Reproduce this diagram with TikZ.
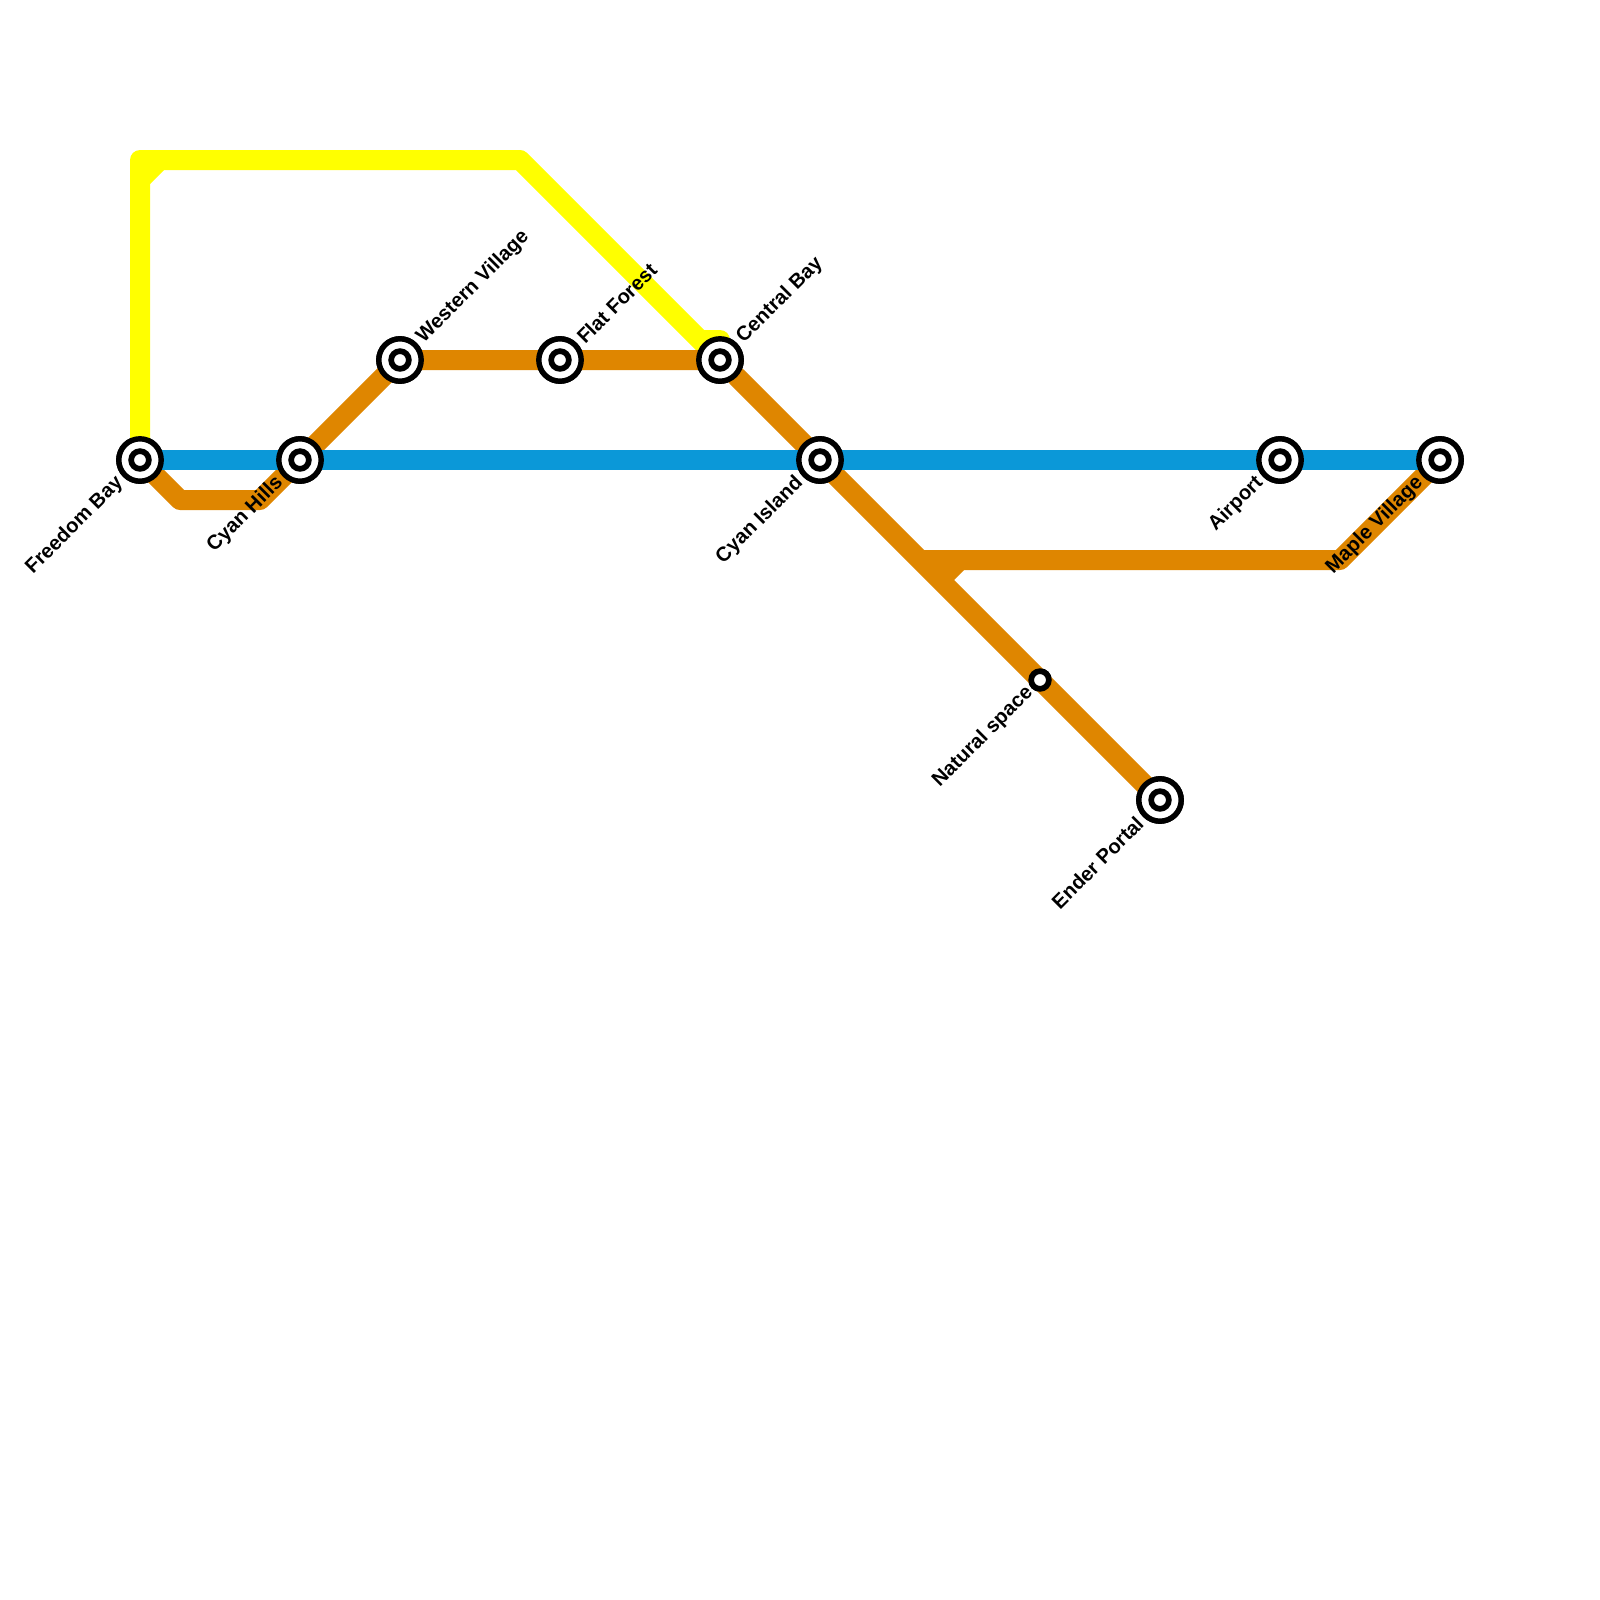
\documentclass[tikz,border=0pt]{standalone}
\usepackage{fontspec}
\setmainfont{Liberation Sans}
\definecolor{lineyellow}{HTML}{FFFF00}
\definecolor{lineorange}{HTML}{DF8600}
\definecolor{lineblue}{HTML}{0B98D8}
\tikzset{
  x=1pt,y=-1pt,
  route/.style={line width=20pt,line join=round,line cap=butt},
  ringnode/.style={circle,draw=black,fill=white,line width=5.4pt,inner sep=0pt,minimum size=42.4pt},
  coreline/.style={circle,draw=black,fill=white,line width=5.7pt,inner sep=0pt,minimum size=17.7pt},
  namelabel/.style={font=\bfseries\fontsize{20.2}{20.2}\selectfont,text=black,inner sep=0pt,rotate=45},
  labelur/.style={namelabel,anchor=west},
  labelll/.style={namelabel,anchor=east},
}
\begin{document}
\begin{tikzpicture}
\useasboundingbox (0,0) rectangle (1600,1600);
% station positions
\node[ringnode] (fb) at (140,460) {};
\node[ringnode] (ch) at (300,460) {};
\node[ringnode] (wv) at (400,360) {};
\node[ringnode] (ff) at (560,360) {};
\node[ringnode] (cb) at (720,360) {};
\node[ringnode] (ci) at (820,460) {};
\node[ringnode] (ap) at (1280,460) {};
\node[ringnode] (mv) at (1440,460) {};
\node[coreline] (ns) at (1040,680) {};
\node[ringnode] (ep) at (1160,800) {};
% bends
\coordinate (y1) at (140,160);
\coordinate (y2) at (520,160);
\coordinate (y3) at (140,180);
\coordinate (y4) at (160,160);
\coordinate (y5) at (720,340);
\coordinate (y6) at (700,340);
\coordinate (o1) at (180,500);
\coordinate (o2) at (260,500);
\coordinate (o3) at (920,560);
\coordinate (o4) at (1340,560);
\coordinate (o5) at (960,560);
\coordinate (o6) at (940,580);
\coordinate (o7) at (737,377);
% lines
\draw[route,lineyellow] (fb.center) -- (y1) -- (y2) -- (cb.center) -- (y5) -- (y6);
\draw[route,lineyellow] (y3) -- (y4);
\draw[route,lineorange] (fb.center) -- (o1) -- (o2) -- (wv.center) -- (cb.center);
\draw[route,lineorange,line cap=round] (o7) -- (ep.center);
\draw[route,lineorange] (o3) -- (o4) -- (mv.center);
\draw[route,lineorange] (o5) -- (o6);
\draw[route,lineblue] (fb.center) -- (mv.center);
% stations on top
\foreach \s in {fb,ch,wv,ff,cb,ci,ap,mv,ep}{
  \node[ringnode] at (\s) {};
  \node[coreline] at (\s) {};
}
\node[coreline] at (ns) {};
% labels
\node[labelll] (lfb) at (120,480) {Freedom Bay};
\node[labelll] (lch) at (280,480) {Cyan Hills};
\node[labelur] (lwv) at (420,340) {Western Village};
\node[labelur] (lff) at (580,340) {Flat Forest};
\node[labelur] (lcb) at (740,340) {Central Bay};
\node[labelll] (lci) at (800,480) {Cyan Island};
\node[labelll] (lap) at (1260,480) {Airport};
\node[labelll] (lmv) at (1420,480) {Maple Village};
\node[labelll] (lns) at (1030,690) {Natural space};
\node[labelll] (lep) at (1140,820) {Ender Portal};
\end{tikzpicture}
\end{document}
